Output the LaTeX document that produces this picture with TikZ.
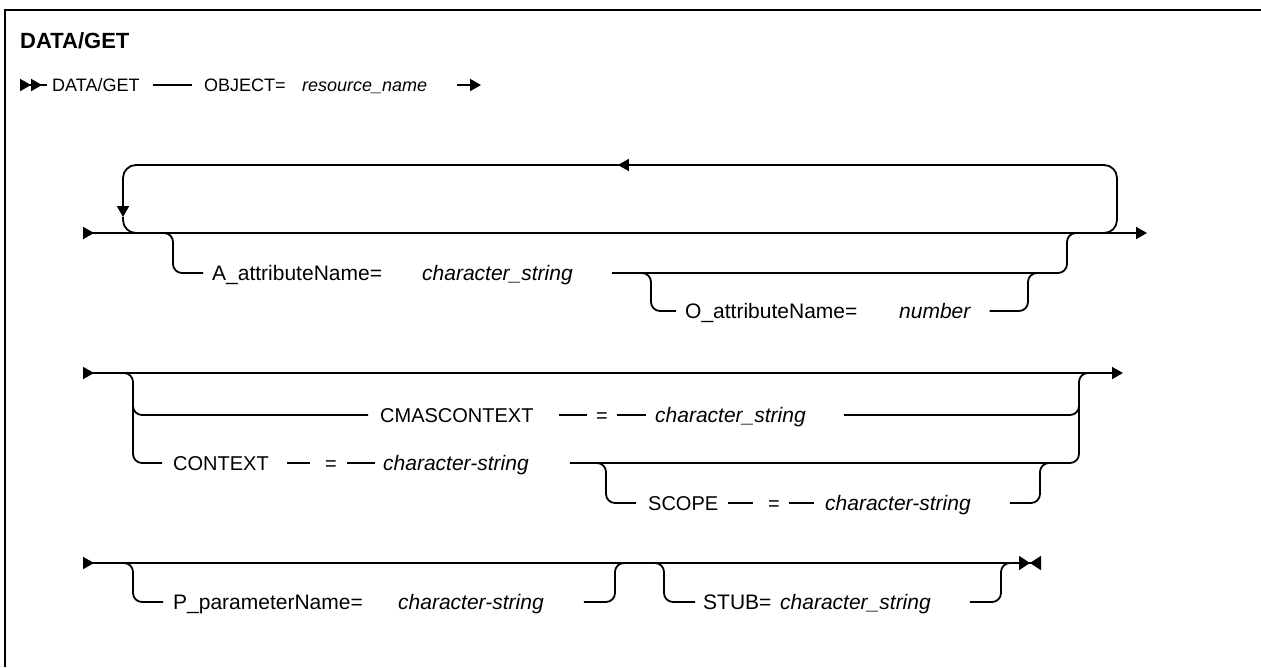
\documentclass[tikz,border=0pt]{standalone}
\usepackage{fontspec}
\setmainfont{Liberation Sans}
\usetikzlibrary{arrows.meta,decorations.markings}

\begin{document}
\begin{tikzpicture}[x=1pt, y=-1pt, >={Triangle[length=11pt,width=12pt]},
    rail/.style={line width=1.8pt, rounded corners=9pt},
    gap/.style 2 args={shorten <=#1pt, shorten >=#2pt},
    kw/.style={inner sep=0pt, anchor=west, text height=15pt, text depth=0pt, font=\fontsize{21}{25}\selectfont},
    var/.style={kw, font=\fontsize{21}{25}\selectfont\itshape},
    kwm/.style={kw, text height=14.3pt, font=\fontsize{20}{24}\selectfont},
    kws/.style={kw, text height=12.9pt, font=\fontsize{18}{22}\selectfont},
    vars/.style={kws, font=\fontsize{18}{22}\selectfont\itshape},
    midarrow/.style={postaction={decorate}, decoration={markings, mark=at position #1 with {\arrow{>}}}},
    bowtie/.style={arrows={>-{Triangle[length=11pt,width=14pt] Triangle[reversed,length=11pt,width=14pt]}}}]

    \useasboundingbox (0,0) rectangle (1261,667);
    \draw[line width=2.4pt] (5,667) -- (5,10) -- (1261,10);

    \node[kw, text height=16pt, font=\fontsize{22}{26}\selectfont\bfseries] (title) at (20,40) {DATA/GET};

    % first line
    \node[kws] (cmd) at (52,85) {DATA/GET};
    \node[kws] (obj) at (204,85) {OBJECT=};
    \node[vars] (res) at (302,85) {resource\_name};
    \coordinate (s0) at (20,85);
    \coordinate (e0) at (481,85);
    \draw[rail, >>-, shorten >=5pt] (s0) -- (cmd.west);
    \draw[rail, gap={13}{12}] (cmd.east) -- (obj.west);
    \draw[rail, ->, shorten <=30pt] (res.east) -- (e0);

    % attributes, repeatable
    \coordinate (s1) at (83,233);
    \coordinate (e1) at (1147,233);
    \draw[rail, >->] (s1) -- (e1);
    \coordinate (lpIn) at (1098,233);
    \coordinate (lpR) at (1117,165);
    \coordinate (lpL) at (123,217);
    \coordinate (lpOut) at (143,233);
    \draw[rail, rounded corners=13pt, ->, midarrow=0.515] (lpIn) -| (lpR) -| (lpL);
    \draw[rail, rounded corners=13pt] (lpL) |- (lpOut);

    \node[kw] (an) at (212,273) {A\_attributeName=};
    \node[var] (av) at (422,273) {character\_string};
    \coordinate (aS) at (158,233);
    \coordinate (aC) at (173,273);
    \coordinate (aJ) at (1067,233);
    \coordinate (aE) at (1080,233);
    \draw[rail, shorten >=9pt] (aS) -| (aC) -- (an.west);
    \draw[rail, shorten <=39pt] (av.east) -| (aJ) -- (aE);

    \node[kw] (on) at (685,311) {O\_attributeName=};
    \node[var] (ov) at (899,311) {number};
    \coordinate (oS) at (636,273);
    \coordinate (oC) at (651,311);
    \coordinate (oJ) at (1028,273);
    \coordinate (oE) at (1040,273);
    \draw[rail, shorten >=9pt] (oS) -| (oC) -- (on.west);
    \draw[rail, shorten <=19pt] (ov.east) -| (oJ) -- (oE);

    % context
    \coordinate (s2) at (83,373);
    \coordinate (e2) at (1123,373);
    \draw[rail, >->] (s2) -- (e2);

    \node[kwm] (cn) at (380,415) {CMASCONTEXT};
    \node[kwm] (ceq) at (596,415) {=};
    \node[var] (cv) at (655,415) {character\_string};
    \node[kwm] (xn) at (173,463) {CONTEXT};
    \node[kwm] (xeq) at (325,463) {=};
    \node[var] (xv) at (383,463) {character-string};
    \coordinate (cS) at (120,373);
    \coordinate (xC) at (133,463);
    \coordinate (cC) at (133,395);
    \coordinate (cJ) at (1079,398);
    \coordinate (xJ) at (1079,373);
    \coordinate (xE) at (1091,373);
    \draw[rail, shorten >=11pt] (cS) -| (xC) -- (xn.west);
    \draw[rail, shorten >=12pt] (cC) |- (cn.west);
    \draw[rail, gap={25}{9}] (cn.east) -- (ceq.west);
    \draw[rail, gap={9}{9}] (ceq.east) -- (cv.west);
    \draw[rail, shorten <=38pt] (cv.east) -| (cJ);
    \draw[rail, gap={18}{15}] (xn.east) -- (xeq.west);
    \draw[rail, gap={10}{8}] (xeq.east) -- (xv.west);
    \draw[rail, shorten <=41pt] (xv.east) -| (xJ) -- (xE);

    \node[kwm] (sn) at (648,503) {SCOPE};
    \node[kwm] (seq) at (768,503) {=};
    \node[var] (sv) at (825,503) {character-string};
    \coordinate (sS) at (592,463);
    \coordinate (sC) at (606,503);
    \coordinate (sJ) at (1040,463);
    \coordinate (sE) at (1052,463);
    \draw[rail, shorten >=12pt] (sS) -| (sC) -- (sn.west);
    \draw[rail, gap={10}{15}] (sn.east) -- (seq.west);
    \draw[rail, gap={9}{11}] (seq.east) -- (sv.west);
    \draw[rail, shorten <=39pt] (sv.east) -| (sJ) -- (sE);

    % parameters and stub
    \coordinate (s3) at (83,563);
    \coordinate (e3) at (1041,563);
    \draw[rail, bowtie] (s3) -- (e3);

    \node[kw] (pn) at (173,602) {P\_parameterName=};
    \node[var] (pv) at (398,602) {character-string};
    \coordinate (pS) at (120,563);
    \coordinate (pC) at (133,602);
    \coordinate (pJ) at (615,563);
    \coordinate (pE) at (627,563);
    \draw[rail, shorten >=10pt] (pS) -| (pC) -- (pn.west);
    \draw[rail, shorten <=40pt] (pv.east) -| (pJ) -- (pE);

    \node[kw] (tn) at (703,602) {STUB=};
    \node[var] (tv) at (780,602) {character\_string};
    \coordinate (tS) at (650,563);
    \coordinate (tC) at (664,602);
    \coordinate (tJ) at (1001,563);
    \coordinate (tE) at (1012,563);
    \draw[rail, shorten >=8pt] (tS) -| (tC) -- (tn.west);
    \draw[rail, shorten <=39pt] (tv.east) -| (tJ) -- (tE);
\end{tikzpicture}
\end{document}
